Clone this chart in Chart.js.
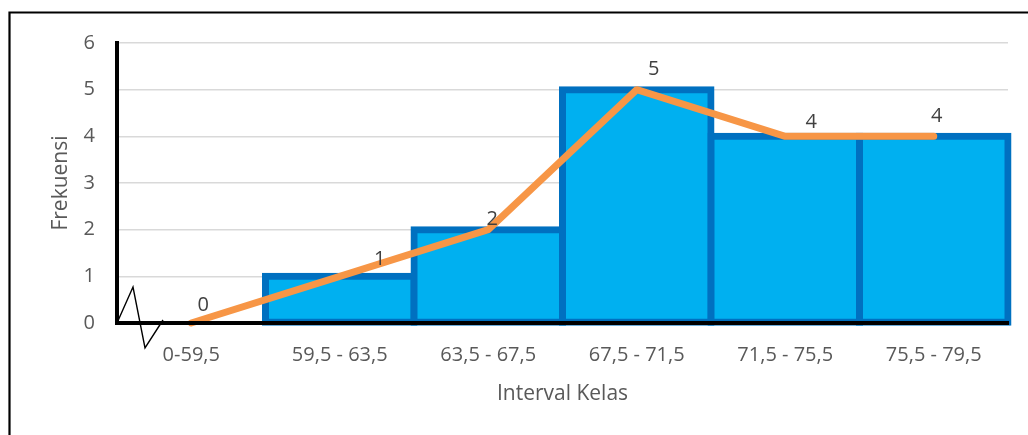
<!DOCTYPE html>
<html>
<head>
<meta charset="utf-8">
<title>Frekuensi per Interval Kelas</title>
<script src="https://cdn.jsdelivr.net/npm/chart.js@4/dist/chart.umd.min.js"></script>
<style>
  html, body { margin: 0; padding: 0; background: #ffffff; }
  #wrap { width: 1028px; height: 435px; }
</style>
</head>
<body>
<div id="wrap"><canvas id="chart" width="1028" height="435"></canvas></div>
<script>
// Class intervals and their frequencies
const categories = ['0-59,5', '59,5 - 63,5', '63,5 - 67,5', '67,5 - 71,5', '71,5 - 75,5', '75,5 - 79,5'];
const frequencies = [0, 1, 2, 5, 4, 4];
const yTicks = [0, 1, 2, 3, 4, 5, 6];

const FONT = "'Open Sans', 'Noto Sans', sans-serif";
const TEXT = '#595959';

// Frame around the figure (left and top edges)
const framePlugin = {
  id: 'frame',
  beforeDraw(chart) {
    const c = chart.ctx;
    c.save();
    c.fillStyle = '#ffffff';
    c.fillRect(0, 0, chart.width, chart.height);
    c.strokeStyle = '#000000';
    c.lineWidth = 2.2;
    c.beginPath();
    c.moveTo(9.5, chart.height);
    c.lineTo(9.5, 12.5);
    c.lineTo(chart.width, 12.5);
    c.stroke();
    c.restore();
  }
};

// Axis break zigzag at the origin, and value labels of the polygon points
const overlayPlugin = {
  id: 'overlay',
  afterDraw(chart, args, opts) {
    const c = chart.ctx;
    const a = chart.chartArea;
    c.save();
    c.strokeStyle = '#000000';
    c.lineWidth = 1.4;
    c.beginPath();
    c.moveTo(a.left, a.bottom);
    c.lineTo(a.left + 16, a.bottom - 36);
    c.lineTo(a.left + 28, a.bottom + 25);
    c.lineTo(a.left + 46, a.bottom - 3);
    c.stroke();

    const meta = chart.getDatasetMeta(0);
    c.fillStyle = '#404040';
    c.font = '20px ' + FONT;
    c.textAlign = 'center';
    c.textBaseline = 'middle';
    meta.data.forEach((pt, i) => {
      const off = opts.offsets[i] || [0, -18];
      c.fillText(String(chart.data.datasets[0].data[i]), pt.x + off[0], pt.y + off[1]);
    });
    c.restore();
  }
};

new Chart(document.getElementById('chart'), {
  data: {
    labels: categories,
    datasets: [
      {
        type: 'line',
        label: 'Poligon',
        data: frequencies,
        borderColor: '#F79646',
        borderWidth: 7,
        borderCapStyle: 'round',
        borderJoinStyle: 'round',
        pointRadius: 0,
        tension: 0,
        fill: false,
        clip: false,
        order: 0
      },
      {
        type: 'bar',
        label: 'Histogram',
        data: frequencies,
        backgroundColor: '#00B0F0',
        borderColor: '#0070C0',
        borderWidth: c => (c.raw ? 7 : 0),
        borderSkipped: false,
        inflateAmount: c => (c.raw ? 3.5 : 0),
        barPercentage: 1,
        categoryPercentage: 1,
        clip: false,
        order: 1
      }
    ]
  },
  options: {
    responsive: false,
    animation: false,
    events: [],
    layout: { padding: { top: 43, right: 20, bottom: 0, left: 0 } },
    plugins: {
      legend: { display: false },
      tooltip: { enabled: false },
      overlay: { offsets: [[12, -18], [40, -17], [4, -10], [17, -20], [26, -14], [3, -20]] }
    },
    scales: {
      x: {
        grid: { display: false, drawTicks: false },
        border: { display: true, color: '#000000', width: 4, z: 1 },
        ticks: { color: TEXT, font: { family: FONT, size: 20 }, padding: 20, maxRotation: 0, autoSkip: false },
        title: {
          display: true, text: 'Interval Kelas', color: TEXT,
          font: { family: FONT, size: 21 }, padding: { top: 0, bottom: 28 }
        },
        afterFit(scale) { scale.height = 112; }
      },
      y: {
        min: 0,
        max: 6,
        afterBuildTicks(scale) { scale.ticks = yTicks.map(v => ({ value: v })); },
        grid: { color: '#d9d9d9', lineWidth: 1.5, drawTicks: false },
        border: { display: true, color: '#000000', width: 4 },
        ticks: { color: TEXT, font: { family: FONT, size: 20 }, padding: 22 },
        title: {
          display: true, text: 'Frekuensi', color: TEXT,
          font: { family: FONT, size: 21 }, padding: { top: 48, bottom: 0 }
        },
        afterFit(scale) { scale.width = 117; }
      }
    }
  },
  plugins: [framePlugin, overlayPlugin]
});
</script>
</body>
</html>
